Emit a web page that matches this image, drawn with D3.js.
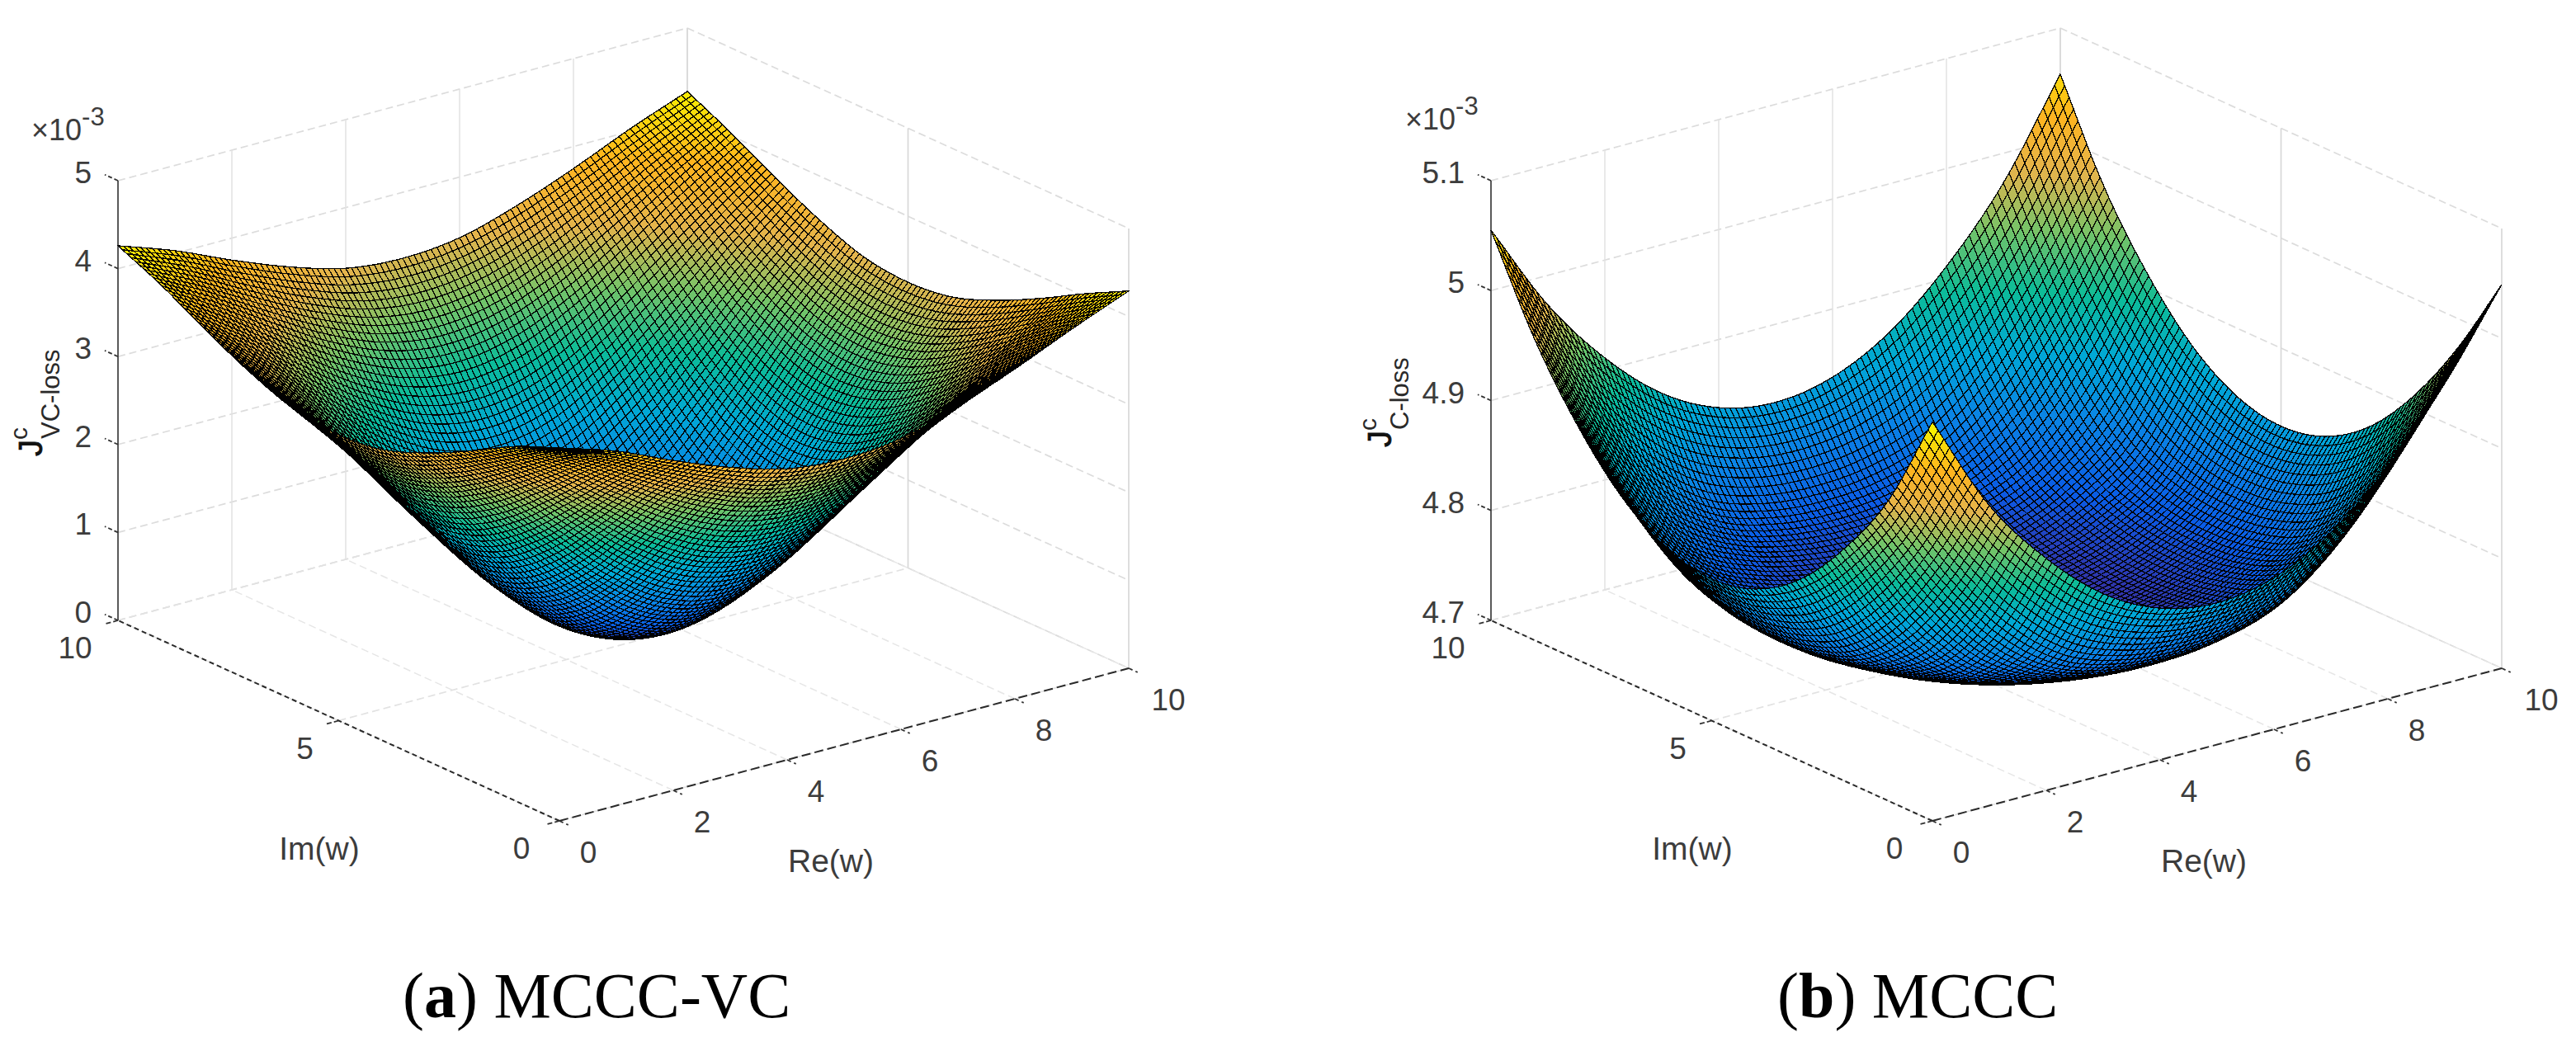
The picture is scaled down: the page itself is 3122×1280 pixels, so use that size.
<!DOCTYPE html>
<html><head><meta charset="utf-8">
<script src="https://cdn.jsdelivr.net/npm/d3@7"></script>
<style>html,body{margin:0;padding:0;background:#fff}svg{display:block}</style>
</head><body><svg id="c" width="3122" height="1280" viewBox="0 0 3122 1280"></svg>
<script>
// Surface heights on an 11x11 lattice. Rows are Im = 0..10, columns Re = 0..10.
// The reference's 100x100 mesh cannot be read cell by cell, so the drawn mesh is a spline resampling of these nodes.
const reNodes = [0,1,2,3,4,5,6,7,8,9,10];
const imNodes = [0,1,2,3,4,5,6,7,8,9,10];
const zRowsA = [
 [4.24,4.03,3.75,3.50,3.31,3.25,3.31,3.50,3.75,4.03,4.29],
 [4.03,3.66,3.25,2.87,2.60,2.50,2.60,2.87,3.25,3.66,4.03],
 [3.75,3.25,2.69,2.17,1.80,1.67,1.80,2.17,2.69,3.25,3.75],
 [3.50,2.87,2.17,1.53,1.07,0.90,1.07,1.53,2.17,2.87,3.50],
 [3.31,2.60,1.80,1.07,0.54,0.35,0.54,1.07,1.80,2.60,3.31],
 [3.25,2.50,1.67,0.90,0.35,0.15,0.35,0.90,1.67,2.50,3.25],
 [3.31,2.60,1.80,1.07,0.54,0.35,0.54,1.07,1.80,2.60,3.31],
 [3.50,2.87,2.17,1.53,1.07,0.90,1.07,1.53,2.17,2.87,3.50],
 [3.75,3.25,2.69,2.17,1.80,1.67,1.80,2.17,2.69,3.25,3.75],
 [4.03,3.66,3.25,2.87,2.60,2.50,2.60,2.87,3.25,3.66,4.03],
 [4.26,4.03,3.75,3.50,3.31,3.25,3.31,3.50,3.75,4.03,4.28]
];
const zRowsB = [
 [5.063,4.973,4.911,4.865,4.838,4.829,4.838,4.865,4.911,4.973,5.049],
 [4.973,4.893,4.829,4.787,4.769,4.764,4.769,4.787,4.829,4.893,4.973],
 [4.911,4.829,4.775,4.749,4.736,4.732,4.736,4.749,4.775,4.829,4.911],
 [4.865,4.787,4.749,4.728,4.719,4.715,4.719,4.728,4.749,4.787,4.865],
 [4.838,4.769,4.736,4.719,4.710,4.708,4.710,4.719,4.736,4.769,4.838],
 [4.829,4.764,4.732,4.715,4.708,4.707,4.708,4.715,4.732,4.764,4.829],
 [4.838,4.769,4.736,4.719,4.710,4.708,4.710,4.719,4.736,4.769,4.838],
 [4.865,4.787,4.749,4.728,4.719,4.715,4.719,4.728,4.749,4.787,4.865],
 [4.911,4.829,4.775,4.749,4.736,4.732,4.736,4.749,4.775,4.829,4.911],
 [4.973,4.893,4.829,4.787,4.769,4.764,4.769,4.787,4.829,4.893,4.973],
 [5.055,4.973,4.911,4.865,4.838,4.829,4.838,4.865,4.911,4.973,5.058]
];
const reTicks = [0,2,4,6,8,10];
const imTicks = [0,5,10];
const zTicksA = [0,1,2,3,4,5];
const zTicksB = [4.7,4.8,4.9,5,5.1];
const zTickLabelsA = ["0","1","2","3","4","5"];
const zTickLabelsB = ["4.7","4.8","4.9","5","5.1"];
const parula = ["#3a2a9c","#0a5ce6","#0a84e6","#00a8d6","#0cbc98","#74c468","#e4b44c","#ffb41e","#f8f000"];

const svg = d3.select("#c");
const SANS = "'Liberation Sans',Arial,sans-serif", SERIF = "'Liberation Serif',serif";
const TXT = "#3c3c3c", MESH = 100;

// Catmull-Rom resampling between the table's nodes, used only to draw the fine mesh
function cr(p0,p1,p2,p3,t){return 0.5*((2*p1)+(-p0+p2)*t+(2*p0-5*p1+4*p2-p3)*t*t+(-p0+3*p1-3*p2+p3)*t*t*t);}
function node(rows,r,c){
  const R=Math.min(10,Math.max(0,r)),C=Math.min(10,Math.max(0,c));
  let v=rows[R][C];
  if(r!==R) v=2*rows[R][C]-rows[R+(r<R?1:-1)][C];
  if(c!==C) v=2*v-(r===R?rows[R][C+(c<C?1:-1)]:2*rows[R][C+(c<C?1:-1)]-rows[R+(r<R?1:-1)][C+(c<C?1:-1)]);
  return v;
}
function sample(rows,re,im){
  const c=Math.min(9,Math.floor(re)),r=Math.min(9,Math.floor(im)),u=re-c,v=im-r,col=[];
  for(let k=-1;k<=2;k++) col.push(cr(node(rows,r+k,c-1),node(rows,r+k,c),node(rows,r+k,c+1),node(rows,r+k,c+2),u));
  return cr(col[0],col[1],col[2],col[3],v);
}

function panel(cfg){
  const g=svg.append("g");
  const xRe=d3.scaleLinear([0,10],[0,690]), yRe=d3.scaleLinear([0,10],[0,-185]);
  const xIm=d3.scaleLinear([0,10],[0,-535]), yIm=d3.scaleLinear([0,10],[0,-243]);
  const zPx=d3.scaleLinear(d3.extent(cfg.zTicks),[0,-533]);
  const P=(re,im,z)=>[cfg.ox+xRe(re)+xIm(im), cfg.oy+yRe(re)+yIm(im)+zPx(z)];
  const z0=cfg.zTicks[0], z1=cfg.zTicks[cfg.zTicks.length-1];
  const line=d3.line();
  const seg=(a,b,color,w,dash,cls)=>g.append("path").attr("class",cls||"grid").attr("d",line([a,b])).attr("fill","none")
     .attr("stroke",color).attr("stroke-width",w).attr("stroke-dasharray",dash||null);
  const GRID="#dcdcdc", D="9,5";
  // walls and floor
  cfg.zTicks.forEach(z=>{seg(P(0,10,z),P(10,10,z),GRID,1.7,D);seg(P(10,10,z),P(10,0,z),GRID,1.7,D);});
  reTicks.forEach(r=>{ if(r>0) seg(P(r,10,z0),P(r,10,z1),"#e2e2e2",1.5);
     seg(P(r,0,z0),P(r,10,z0),"#e6e6e6",1.5,D);});
  imTicks.forEach(m=>{ seg(P(10,m,z0),P(10,m,z1),"#d8d8d8",1.7);
     seg(P(0,m,z0),P(10,m,z0),"#e2e2e2",1.7,D);});
  // axes
  seg(P(0,10,z0),P(0,10,z1),"#5a5a5a",2,null,"axis");
  seg(P(0,0,z0),P(0,10,z0),"#2a2a2a",2,"6,4","axis");
  seg(P(0,0,z0),P(10,0,z0),"#2a2a2a",2,"11,5","axis");
  cfg.zTicks.forEach(z=>seg(P(0,10,z),P(0,10.3,z),"#333",1.8,"5,3","axis"));
  imTicks.forEach(m=>seg(P(0,m,z0),P(-0.24,m,z0),"#333",1.8,"6,3","axis"));
  reTicks.forEach(r=>seg(P(r,0,z0),P(r,-0.2,z0),"#333",1.8,"5,4","axis"));

  // mesh cells, far corner to near corner
  const step=10/MESH, H=[];
  for(let j=0;j<=MESH;j++){const row=[];for(let i=0;i<=MESH;i++)row.push(sample(cfg.rows,i*step,j*step));H.push(row);}
  const flat=cfg.rows.flat(), color=d3.scaleLinear(d3.range(parula.length).map(k=>d3.min(flat)+(d3.max(flat)-d3.min(flat))*k/(parula.length-1)),parula).clamp(true);
  const cells=[];
  for(let j=MESH-1;j>=0;j--)for(let i=MESH-1;i>=0;i--)cells.push({i,j,z:H[j][i]});
  g.append("g").attr("shape-rendering","crispEdges").attr("stroke","#000").attr("stroke-width",cfg.sw)
   .selectAll("path").data(cells).join("path")
   .attr("fill",d=>color(d.z))
   .attr("d",d=>{const{i,j}=d;return "M"+[P(i*step,j*step,H[j][i]),P((i+1)*step,j*step,H[j][i+1]),P((i+1)*step,(j+1)*step,H[j+1][i+1]),P(i*step,(j+1)*step,H[j+1][i])].map(p=>p[0].toFixed(1)+","+p[1].toFixed(1)).join("L")+"Z";});

  const label=(x,y,t,anchor,size)=>g.append("text").attr("x",x).attr("y",y).attr("text-anchor",anchor||"middle")
     .attr("font-family",SANS).attr("font-size",size||37).attr("fill",TXT).text(t);
  // z labels
  cfg.zTicks.forEach((z,k)=>{const p=P(0,10,z);label(p[0]-32,p[1]+3,cfg.zLabels[k],"end");});
  reTicks.forEach(r=>{const p=P(r,0,z0);label(p[0]+(r===10?48:35),p[1]+51,String(r));});
  imTicks.forEach(m=>{const p=P(0,m,z0);label(p[0]-(m===10?52:(m===5?41:46)),p[1]+46,String(m));});
  label(cfg.ox-291,1042,"Im(w)","middle",39);
  label(cfg.ox+329,1057,"Re(w)","middle",39);
  // exponent
  const e=g.append("text").attr("x",cfg.exp[0]).attr("y",cfg.exp[1]).attr("font-family",SANS).attr("font-size",36).attr("fill",TXT);
  e.append("tspan").text("×10");
  e.append("tspan").attr("dy",-18).attr("font-size",31).text("-3");
  // z title
  const t=g.append("text").attr("transform",`translate(${cfg.title[0]},${cfg.title[1]}) rotate(-90)`).attr("font-family",SANS).attr("fill","#2a2a2a");
  t.append("tspan").attr("font-size",40).attr("fill","#111").attr("stroke","#111").attr("stroke-width",0.8).text("J");
  t.append("tspan").attr("font-size",30).attr("dy",-18).text("c");
  t.append("tspan").attr("font-size",31).attr("dx",-14).attr("dy",cfg.subDy).text(cfg.sub);
  // caption
  const c=g.append("text").attr("x",cfg.cap).attr("y",1233).attr("font-family",SERIF).attr("font-size",cfg.capSize).attr("fill","#000");
  c.append("tspan").text("(");
  c.append("tspan").attr("font-weight","bold").text(cfg.letter);
  c.append("tspan").text(") "+cfg.name);
}

panel({ox:678,oy:995,rows:zRowsA,zTicks:zTicksA,zLabels:zTickLabelsA,sub:"VC-loss",subDy:39,title:[51,553],exp:[38,170],letter:"a",name:"MCCC-VC",cap:488,capSize:78,sw:1.3});
panel({ox:2342,oy:995,rows:zRowsB,zTicks:zTicksB,zLabels:zTickLabelsB,sub:"C-loss",subDy:39,title:[1686,542],exp:[1703,157],letter:"b",name:"MCCC",cap:2154,capSize:78,sw:1.3});
</script></body></html>
